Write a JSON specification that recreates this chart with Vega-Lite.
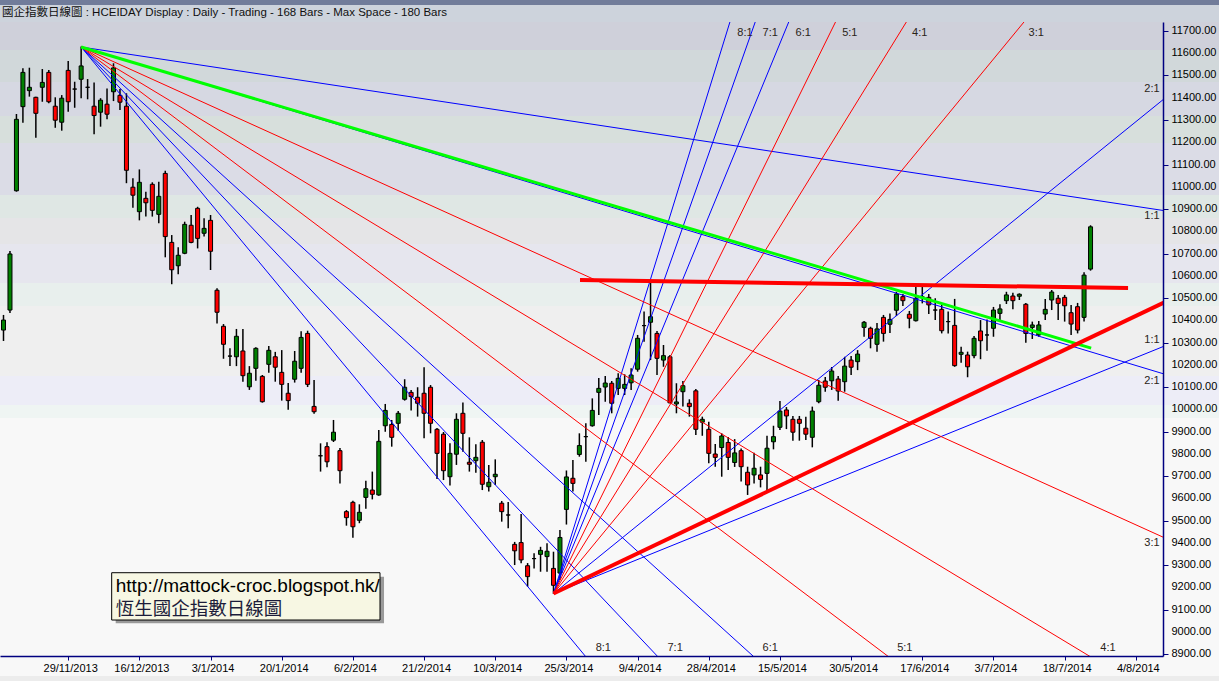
{
"$schema": "https://vega.github.io/schema/vega-lite/v6.json",
"width": 1163, "height": 634,
"autosize": {"type": "none"},
"padding": {"left": 0, "top": 22, "right": 56, "bottom": 25},
"background": "#f8f8f8",
"datasets": {
"bands": [
{"lo": 11816.8, "hi": 11839.3, "band": "t0"},
{"lo": 11740.4, "hi": 11816.8, "band": "t1"},
{"lo": 11614.6, "hi": 11740.4, "band": "b1"},
{"lo": 11470.8, "hi": 11614.6, "band": "b2"},
{"lo": 11318.0, "hi": 11470.8, "band": "b3"},
{"lo": 11196.7, "hi": 11318.0, "band": "b4"},
{"lo": 10963.0, "hi": 11196.7, "band": "b5"},
{"lo": 10859.6, "hi": 10963.0, "band": "b6"},
{"lo": 10742.8, "hi": 10859.6, "band": "b7"},
{"lo": 10567.5, "hi": 10742.8, "band": "b8"},
{"lo": 10464.1, "hi": 10567.5, "band": "b9"},
{"lo": 10149.7, "hi": 10464.1, "band": "b10"},
{"lo": 10019.4, "hi": 10149.7, "band": "b11"},
{"lo": 9960.9, "hi": 10019.4, "band": "b12"},
{"lo": 8801.4, "hi": 9960.9, "band": "b13"},
{"lo": 8770.0, "hi": 8801.4, "band": "b14"}
],
"heading": [
{"k": -0.23, "p": 11781, "t": "國企指數日線圖 : HCEIDAY Display :  Daily  - Trading - 168 Bars -  Max Space - 180 Bars"}
],
"ylabels": [
{"p":8900,"t":"8900.00"},{"p":9000,"t":"9000.00"},{"p":9100,"t":"9100.00"},{"p":9200,"t":"9200.00"},{"p":9300,"t":"9300.00"},
{"p":9400,"t":"9400.00"},{"p":9500,"t":"9500.00"},{"p":9600,"t":"9600.00"},{"p":9700,"t":"9700.00"},{"p":9800,"t":"9800.00"},
{"p":9900,"t":"9900.00"},{"p":10000,"t":"10000.00"},{"p":10100,"t":"10100.00"},{"p":10200,"t":"10200.00"},{"p":10300,"t":"10300.00"},
{"p":10400,"t":"10400.00"},{"p":10500,"t":"10500.00"},{"p":10600,"t":"10600.00"},{"p":10700,"t":"10700.00"},{"p":10800,"t":"10800.00"},
{"p":10900,"t":"10900.00"},{"p":11000,"t":"11000.00"},{"p":11100,"t":"11100.00"},{"p":11200,"t":"11200.00"},{"p":11300,"t":"11300.00"},
{"p":11400,"t":"11400.00"},{"p":11500,"t":"11500.00"},{"p":11600,"t":"11600.00"},{"p":11700,"t":"11700.00"}
],
"candles": [
{"k":0,"o":10356,"c":10401,"h":10424,"l":10307},
{"k":1,"o":10446,"c":10698,"h":10711,"l":10433},
{"k":2,"o":10982,"c":11303,"h":11327,"l":10978},
{"k":3,"o":11360,"c":11514,"h":11532,"l":11288},
{"k":4,"o":11432,"c":11447,"h":11535,"l":11405},
{"k":5,"o":11402,"c":11330,"h":11405,"l":11220},
{"k":6,"o":11447,"c":11469,"h":11529,"l":11382},
{"k":7,"o":11514,"c":11382,"h":11525,"l":11375},
{"k":8,"o":11362,"c":11299,"h":11402,"l":11265},
{"k":9,"o":11290,"c":11398,"h":11412,"l":11252},
{"k":10,"o":11523,"c":11382,"h":11565,"l":11337},
{"k":11,"o":11439,"c":11439,"h":11472,"l":11355},
{"k":12,"o":11483,"c":11543,"h":11630,"l":11398},
{"k":13,"o":11447,"c":11447,"h":11484,"l":11393},
{"k":14,"o":11362,"c":11320,"h":11469,"l":11236},
{"k":15,"o":11335,"c":11389,"h":11398,"l":11270},
{"k":16,"o":11371,"c":11326,"h":11442,"l":11303},
{"k":17,"o":11427,"c":11534,"h":11555,"l":11385},
{"k":18,"o":11411,"c":11380,"h":11439,"l":11345},
{"k":19,"o":11362,"c":11074,"h":11420,"l":11016},
{"k":20,"o":10998,"c":10962,"h":11038,"l":10906},
{"k":21,"o":10888,"c":11020,"h":11078,"l":10849},
{"k":22,"o":10948,"c":10928,"h":10978,"l":10866},
{"k":23,"o":11011,"c":10894,"h":11020,"l":10866},
{"k":24,"o":10876,"c":10957,"h":11023,"l":10836},
{"k":25,"o":11060,"c":10776,"h":11072,"l":10683},
{"k":26,"o":10750,"c":10627,"h":10783,"l":10562},
{"k":27,"o":10645,"c":10692,"h":10728,"l":10607},
{"k":28,"o":10701,"c":10831,"h":10843,"l":10697},
{"k":29,"o":10827,"c":10750,"h":10873,"l":10746},
{"k":30,"o":10903,"c":10768,"h":10910,"l":10723},
{"k":31,"o":10791,"c":10813,"h":10858,"l":10776},
{"k":32,"o":10849,"c":10710,"h":10873,"l":10626},
{"k":33,"o":10535,"c":10436,"h":10544,"l":10386},
{"k":34,"o":10373,"c":10292,"h":10383,"l":10227},
{"k":35,"o":10239,"c":10239,"h":10274,"l":10194},
{"k":36,"o":10236,"c":10328,"h":10361,"l":10194},
{"k":37,"o":10262,"c":10151,"h":10361,"l":10124},
{"k":38,"o":10101,"c":10162,"h":10194,"l":10087},
{"k":39,"o":10184,"c":10274,"h":10279,"l":10128},
{"k":40,"o":10148,"c":10034,"h":10154,"l":10030},
{"k":41,"o":10202,"c":10265,"h":10284,"l":10164},
{"k":42,"o":10236,"c":10189,"h":10258,"l":10124},
{"k":43,"o":10166,"c":10112,"h":10266,"l":10039},
{"k":44,"o":10072,"c":10039,"h":10118,"l":9998},
{"k":45,"o":10135,"c":10216,"h":10262,"l":10120},
{"k":46,"o":10184,"c":10323,"h":10351,"l":10164},
{"k":47,"o":10341,"c":10112,"h":10353,"l":10100},
{"k":48,"o":10013,"c":9989,"h":10132,"l":9980},
{"k":49,"o":9791,"c":9791,"h":9847,"l":9720},
{"k":50,"o":9832,"c":9764,"h":9852,"l":9739},
{"k":51,"o":9861,"c":9897,"h":9952,"l":9853},
{"k":52,"o":9814,"c":9724,"h":9826,"l":9666},
{"k":53,"o":9540,"c":9513,"h":9547,"l":9477},
{"k":54,"o":9582,"c":9472,"h":9589,"l":9423},
{"k":55,"o":9501,"c":9537,"h":9573,"l":9488},
{"k":56,"o":9604,"c":9643,"h":9679,"l":9553},
{"k":57,"o":9637,"c":9618,"h":9720,"l":9595},
{"k":58,"o":9615,"c":9856,"h":9907,"l":9612},
{"k":59,"o":9926,"c":9995,"h":10024,"l":9899},
{"k":60,"o":9932,"c":9874,"h":9952,"l":9832},
{"k":61,"o":9937,"c":9982,"h":9992,"l":9904},
{"k":62,"o":10045,"c":10099,"h":10135,"l":10039},
{"k":63,"o":10076,"c":10057,"h":10087,"l":9994},
{"k":64,"o":10054,"c":10027,"h":10099,"l":9967},
{"k":65,"o":10072,"c":9982,"h":10189,"l":9870},
{"k":66,"o":10099,"c":9937,"h":10109,"l":9892},
{"k":67,"o":9910,"c":9802,"h":9916,"l":9687},
{"k":68,"o":9888,"c":9724,"h":9898,"l":9682},
{"k":69,"o":9697,"c":9802,"h":9847,"l":9657},
{"k":70,"o":9798,"c":9955,"h":9982,"l":9750},
{"k":71,"o":9982,"c":9892,"h":10031,"l":9809},
{"k":72,"o":9762,"c":9753,"h":9874,"l":9720},
{"k":73,"o":9769,"c":9784,"h":9843,"l":9715},
{"k":74,"o":9852,"c":9663,"h":9862,"l":9637},
{"k":75,"o":9652,"c":9672,"h":9750,"l":9630},
{"k":76,"o":9697,"c":9708,"h":9775,"l":9660},
{"k":77,"o":9578,"c":9540,"h":9588,"l":9495},
{"k":78,"o":9525,"c":9525,"h":9583,"l":9465},
{"k":79,"o":9393,"c":9364,"h":9404,"l":9300},
{"k":80,"o":9401,"c":9323,"h":9529,"l":9308},
{"k":81,"o":9297,"c":9248,"h":9309,"l":9203},
{"k":82,"o":9329,"c":9329,"h":9353,"l":9285},
{"k":83,"o":9348,"c":9366,"h":9382,"l":9270},
{"k":84,"o":9338,"c":9362,"h":9398,"l":9270},
{"k":85,"o":9285,"c":9209,"h":9360,"l":9170},
{"k":86,"o":9264,"c":9424,"h":9458,"l":9233},
{"k":87,"o":9550,"c":9696,"h":9725,"l":9482},
{"k":88,"o":9690,"c":9667,"h":9772,"l":9630},
{"k":89,"o":9797,"c":9837,"h":9892,"l":9787},
{"k":90,"o":9877,"c":9877,"h":9937,"l":9764},
{"k":91,"o":9926,"c":9995,"h":10049,"l":9922},
{"k":92,"o":10076,"c":10094,"h":10141,"l":9974},
{"k":93,"o":10100,"c":10118,"h":10150,"l":10034},
{"k":94,"o":10117,"c":10027,"h":10127,"l":9982},
{"k":95,"o":10094,"c":10139,"h":10162,"l":10064},
{"k":96,"o":10094,"c":10112,"h":10157,"l":10064},
{"k":97,"o":10119,"c":10154,"h":10184,"l":10087},
{"k":98,"o":10180,"c":10319,"h":10334,"l":10169},
{"k":99,"o":10376,"c":10376,"h":10439,"l":10304},
{"k":100,"o":10391,"c":10416,"h":10574,"l":10221},
{"k":101,"o":10341,"c":10229,"h":10352,"l":10154},
{"k":102,"o":10221,"c":10241,"h":10289,"l":10191},
{"k":103,"o":10236,"c":10029,"h":10244,"l":10027},
{"k":104,"o":10024,"c":10033,"h":10117,"l":9982},
{"k":105,"o":10079,"c":10106,"h":10127,"l":10012},
{"k":106,"o":10027,"c":10012,"h":10045,"l":9967},
{"k":107,"o":10083,"c":9910,"h":10091,"l":9884},
{"k":108,"o":9942,"c":9955,"h":9967,"l":9881},
{"k":109,"o":9910,"c":9802,"h":9944,"l":9757},
{"k":110,"o":9799,"c":9784,"h":9844,"l":9742},
{"k":111,"o":9828,"c":9880,"h":9892,"l":9697},
{"k":112,"o":9851,"c":9784,"h":9875,"l":9727},
{"k":113,"o":9761,"c":9804,"h":9866,"l":9741},
{"k":114,"o":9814,"c":9742,"h":9824,"l":9675},
{"k":115,"o":9717,"c":9660,"h":9742,"l":9615},
{"k":116,"o":9705,"c":9735,"h":9805,"l":9667},
{"k":117,"o":9705,"c":9685,"h":9742,"l":9649},
{"k":118,"o":9712,"c":9825,"h":9881,"l":9634},
{"k":119,"o":9854,"c":9877,"h":9926,"l":9820},
{"k":120,"o":9919,"c":9992,"h":10037,"l":9907},
{"k":121,"o":9997,"c":9970,"h":10010,"l":9911},
{"k":122,"o":9955,"c":9897,"h":9970,"l":9859},
{"k":123,"o":9955,"c":9937,"h":9970,"l":9859},
{"k":124,"o":9915,"c":9888,"h":9967,"l":9862},
{"k":125,"o":9874,"c":9992,"h":10012,"l":9829},
{"k":126,"o":10034,"c":10108,"h":10132,"l":10027},
{"k":127,"o":10127,"c":10099,"h":10145,"l":10079},
{"k":128,"o":10128,"c":10172,"h":10190,"l":10087},
{"k":129,"o":10136,"c":10082,"h":10150,"l":10038},
{"k":130,"o":10124,"c":10194,"h":10236,"l":10079},
{"k":131,"o":10221,"c":10189,"h":10239,"l":10154},
{"k":132,"o":10214,"c":10248,"h":10266,"l":10176},
{"k":133,"o":10368,"c":10391,"h":10397,"l":10326},
{"k":134,"o":10364,"c":10319,"h":10371,"l":10274},
{"k":135,"o":10292,"c":10361,"h":10388,"l":10259},
{"k":136,"o":10413,"c":10341,"h":10424,"l":10304},
{"k":137,"o":10382,"c":10404,"h":10430,"l":10343},
{"k":138,"o":10445,"c":10518,"h":10528,"l":10419},
{"k":139,"o":10506,"c":10488,"h":10518,"l":10464},
{"k":140,"o":10427,"c":10409,"h":10442,"l":10364},
{"k":141,"o":10398,"c":10499,"h":10551,"l":10394},
{"k":142,"o":10505,"c":10505,"h":10551,"l":10476},
{"k":143,"o":10503,"c":10469,"h":10518,"l":10428},
{"k":144,"o":10446,"c":10446,"h":10499,"l":10401},
{"k":145,"o":10449,"c":10353,"h":10469,"l":10341},
{"k":146,"o":10394,"c":10394,"h":10439,"l":10341},
{"k":147,"o":10377,"c":10196,"h":10496,"l":10191},
{"k":148,"o":10247,"c":10256,"h":10281,"l":10209},
{"k":149,"o":10244,"c":10191,"h":10259,"l":10144},
{"k":150,"o":10241,"c":10319,"h":10329,"l":10229},
{"k":151,"o":10352,"c":10308,"h":10401,"l":10225},
{"k":152,"o":10334,"c":10334,"h":10404,"l":10263},
{"k":153,"o":10364,"c":10446,"h":10460,"l":10326},
{"k":154,"o":10431,"c":10451,"h":10472,"l":10401},
{"k":155,"o":10488,"c":10514,"h":10528,"l":10473},
{"k":156,"o":10509,"c":10488,"h":10524,"l":10449},
{"k":157,"o":10508,"c":10517,"h":10521,"l":10491},
{"k":158,"o":10472,"c":10341,"h":10478,"l":10299},
{"k":159,"o":10368,"c":10379,"h":10394,"l":10316},
{"k":160,"o":10334,"c":10379,"h":10397,"l":10326},
{"k":161,"o":10428,"c":10449,"h":10496,"l":10401},
{"k":162,"o":10491,"c":10527,"h":10536,"l":10446},
{"k":163,"o":10499,"c":10476,"h":10514,"l":10401},
{"k":164,"o":10503,"c":10465,"h":10514,"l":10394},
{"k":165,"o":10434,"c":10383,"h":10469,"l":10334},
{"k":166,"o":10461,"c":10356,"h":10478,"l":10341},
{"k":167,"o":10413,"c":10603,"h":10616,"l":10394},
{"k":168,"o":10630,"c":10820,"h":10827,"l":10623}
],
"lines": [
{"id":"f1n1","kind":"blue","k":12,"p":11628},{"id":"f1n1","kind":"blue","k":180,"p":10890},
{"id":"f1n2","kind":"blue","k":12,"p":11628},{"id":"f1n2","kind":"blue","k":180,"p":10153},
{"id":"f1n3","kind":"red","k":12,"p":11628},{"id":"f1n3","kind":"red","k":180,"p":9415},
{"id":"f1n4","kind":"red","k":12,"p":11628},{"id":"f1n4","kind":"red","k":173,"p":8800},
{"id":"f1n5","kind":"red","k":12,"p":11628},{"id":"f1n5","kind":"red","k":140.8,"p":8800},
{"id":"f1n6","kind":"blue","k":12,"p":11628},{"id":"f1n6","kind":"blue","k":119.3,"p":8800},
{"id":"f1n7","kind":"blue","k":12,"p":11628},{"id":"f1n7","kind":"blue","k":104,"p":8800},
{"id":"f1n8","kind":"blue","k":12,"p":11628},{"id":"f1n8","kind":"blue","k":92.5,"p":8800},
{"id":"f2n1","kind":"blue","k":85,"p":9172},{"id":"f2n1","kind":"blue","k":180,"p":10291},
{"id":"f2n2","kind":"blue","k":85,"p":9172},{"id":"f2n2","kind":"blue","k":180,"p":11410},
{"id":"f2n3","kind":"red","k":85,"p":9172},{"id":"f2n3","kind":"red","k":159.4,"p":11800},
{"id":"f2n4","kind":"red","k":85,"p":9172},{"id":"f2n4","kind":"red","k":140.8,"p":11800},
{"id":"f2n5","kind":"red","k":85,"p":9172},{"id":"f2n5","kind":"red","k":129.6,"p":11800},
{"id":"f2n6","kind":"blue","k":85,"p":9172},{"id":"f2n6","kind":"blue","k":122.2,"p":11800},
{"id":"f2n7","kind":"blue","k":85,"p":9172},{"id":"f2n7","kind":"blue","k":116.9,"p":11800},
{"id":"f2n8","kind":"blue","k":85,"p":9172},{"id":"f2n8","kind":"blue","k":112.9,"p":11800},
{"id":"g1","kind":"green","k":12,"p":11628},{"id":"g1","kind":"green","k":168.1,"p":10275},
{"id":"t1","kind":"thick","k":89.1,"p":10581},{"id":"t1","kind":"thick","k":173.8,"p":10545},
{"id":"t2","kind":"thick","k":85,"p":9172},{"id":"t2","kind":"thick","k":180,"p":10489}
],
"labels": [
{"k":114.6,"p":11691,"t":"8:1"},{"k":118.5,"p":11691,"t":"7:1"},{"k":123.6,"p":11691,"t":"6:1"},
{"k":130.8,"p":11691,"t":"5:1"},{"k":141.6,"p":11691,"t":"4:1"},{"k":159.6,"p":11691,"t":"3:1"},
{"k":92.7,"p":8927,"t":"8:1"},{"k":103.8,"p":8927,"t":"7:1"},{"k":118.5,"p":8927,"t":"6:1"},
{"k":139.3,"p":8927,"t":"5:1"},{"k":170.7,"p":8927,"t":"4:1"},
{"k":177.5,"p":11439,"t":"2:1"},{"k":177.5,"p":10869,"t":"1:1"},{"k":177.5,"p":10311,"t":"1:1"},
{"k":177.5,"p":10127,"t":"2:1"},{"k":177.5,"p":9399,"t":"3:1"}
],
"note": [
{"x1":16.72,"x2":58.19,"y1":9265.6,"y2":9053.0,"sx1":17.34,"sx2":58.81,"sy1":9247.6,"sy2":9038.2}
],
"notetext": [
{"k":17.35,"p":9207,"t":"http://mattock-croc.blogspot.hk/","f":"url"},
{"k":17.35,"p":9101,"t":"恆生國企指數日線圖","f":"cjk"}
]
},
"layer": [
{
"data": {"name": "bands"},
"mark": {"type": "rect", "clip": false},
"encoding": {
"x": {"datum": -1, "type": "quantitative", "scale": {"domain": [-0.541, 179.2], "nice": false, "zero": false, "padding": 0},
"axis": {"title": null, "orient": "bottom", "zindex": 2, "values": [-1,10,21,32,43,54,65,76,87,98,109,120,131,142,153,164,175],
"labelExpr": "['14/11/2013','29/11/2013','16/12/2013','3/1/2014','20/1/2014','6/2/2014','21/2/2014','10/3/2014','25/3/2014','9/4/2014','28/4/2014','15/5/2014','30/5/2014','17/6/2014','3/7/2014','18/7/2014','4/8/2014'][round((datum.value+1)/11)]",
"labelOffset": 2, "tickSize": 4, "labelOverlap": false, "labelFlush": false, "labelBound": false}},
"x2": {"datum": 190},
"y": {"field": "lo", "type": "quantitative", "scale": {"domain": [8891.3, 11740.4], "nice": false, "zero": false, "padding": 0},
"axis": {"title": null, "orient": "right", "zindex": 2,
"values": [8900,9000,9100,9200,9300,9400,9500,9600,9700,9800,9900,10000,10100,10200,10300,10400,10500,10600,10700,10800,10900,11000,11100,11200,11300,11400,11500,11600,11700],
"labels": false, "tickSize": 5}},
"y2": {"field": "hi"},
"color": {"field": "band", "type": "nominal", "legend": null,
"scale": {"domain": ["t0","t1","b1","b2","b3","b4","b5","b6","b7","b8","b9","b10","b11","b12","b13","b14"],
"range": ["#717c9a","#cdd3dc","#cfd0da","#d1d8da","#d6d8e2","#d7dfdc","#dbdce6","#dfe7e4","#e5e5e7","#e6e6ee","#e8efed","#efefef","#ededf7","#eff5f3","#f8f8f8","#ececec"]}}
}
},
{
"data": {"name": "heading"},
"mark": {"type": "text", "clip": false, "font": "Liberation Sans, Noto Sans CJK TC", "fontSize": 11.5, "color": "#101010", "align": "left", "baseline": "middle"},
"encoding": {
"x": {"field": "k", "type": "quantitative"},
"y": {"field": "p", "type": "quantitative"},
"text": {"field": "t"}
}
},
{
"data": {"name": "ylabels"},
"mark": {"type": "text", "clip": false, "font": "Liberation Sans", "fontSize": 11, "color": "#000000", "align": "left", "baseline": "middle"},
"encoding": {
"x": {"datum": 180.5, "type": "quantitative"},
"y": {"field": "p", "type": "quantitative"},
"text": {"field": "t"}
}
},
{
"data": {"name": "candles"},
"mark": {"type": "rule", "clip": true, "color": "#000000", "strokeWidth": 1.5},
"encoding": {
"x": {"field": "k", "type": "quantitative"},
"y": {"field": "l", "type": "quantitative"},
"y2": {"field": "h"}
}
},
{
"data": {"name": "candles"},
"mark": {"type": "bar", "clip": true, "size": 4, "stroke": "#000000", "strokeWidth": 1},
"encoding": {
"x": {"field": "k", "type": "quantitative"},
"y": {"field": "o", "type": "quantitative"},
"y2": {"field": "c"},
"fill": {"condition": {"test": "datum.c < datum.o", "value": "#ff0000"}, "value": "#008000"}
}
},
{
"data": {"name": "lines"},
"transform": [{"filter": "datum.kind === 'blue'"}],
"mark": {"type": "line", "clip": true, "color": "#0000ff", "strokeWidth": 1},
"encoding": {
"x": {"field": "k", "type": "quantitative"},
"y": {"field": "p", "type": "quantitative"},
"detail": {"field": "id"}
}
},
{
"data": {"name": "lines"},
"transform": [{"filter": "datum.kind === 'red'"}],
"mark": {"type": "line", "clip": true, "color": "#ff0000", "strokeWidth": 1},
"encoding": {
"x": {"field": "k", "type": "quantitative"},
"y": {"field": "p", "type": "quantitative"},
"detail": {"field": "id"}
}
},
{
"data": {"name": "lines"},
"transform": [{"filter": "datum.kind === 'green'"}],
"mark": {"type": "line", "clip": true, "color": "#00ff00", "strokeWidth": 3},
"encoding": {
"x": {"field": "k", "type": "quantitative"},
"y": {"field": "p", "type": "quantitative"},
"detail": {"field": "id"}
}
},
{
"data": {"name": "lines"},
"transform": [{"filter": "datum.kind === 'thick'"}],
"mark": {"type": "line", "clip": true, "color": "#ff0000", "strokeWidth": 4},
"encoding": {
"x": {"field": "k", "type": "quantitative"},
"y": {"field": "p", "type": "quantitative"},
"detail": {"field": "id"}
}
},
{
"data": {"name": "labels"},
"mark": {"type": "text", "font": "Liberation Sans", "fontSize": 11, "color": "#2a2418", "align": "center", "baseline": "middle"},
"encoding": {
"x": {"field": "k", "type": "quantitative"},
"y": {"field": "p", "type": "quantitative"},
"text": {"field": "t"}
}
},
{
"data": {"name": "note"},
"mark": {"type": "rect", "color": "#9a9a9a"},
"encoding": {
"x": {"field": "sx1", "type": "quantitative"},
"x2": {"field": "sx2"},
"y": {"field": "sy1", "type": "quantitative"},
"y2": {"field": "sy2"}
}
},
{
"data": {"name": "note"},
"mark": {"type": "rect", "fill": "#f7f7e3", "stroke": "#000000", "strokeWidth": 1},
"encoding": {
"x": {"field": "x1", "type": "quantitative"},
"x2": {"field": "x2"},
"y": {"field": "y1", "type": "quantitative"},
"y2": {"field": "y2"}
}
},
{
"data": {"name": "notetext"},
"transform": [{"filter": "datum.f === 'url'"}],
"mark": {"type": "text", "font": "Liberation Sans", "fontSize": 19, "color": "#000000", "align": "left", "baseline": "middle"},
"encoding": {
"x": {"field": "k", "type": "quantitative"},
"y": {"field": "p", "type": "quantitative"},
"text": {"field": "t"}
}
},
{
"data": {"name": "notetext"},
"transform": [{"filter": "datum.f === 'cjk'"}],
"mark": {"type": "text", "font": "Noto Sans CJK TC", "fontSize": 18.5, "color": "#1c1c3a", "align": "left", "baseline": "middle"},
"encoding": {
"x": {"field": "k", "type": "quantitative"},
"y": {"field": "p", "type": "quantitative"},
"text": {"field": "t"}
}
}
],
"config": {
"view": {"stroke": null},
"axis": {"grid": false, "domainColor": "#000080", "domainWidth": 1.5, "tickColor": "#000080", "tickWidth": 1,
"labelFont": "Liberation Sans", "labelFontSize": 11, "labelColor": "#000000"}
}
}
